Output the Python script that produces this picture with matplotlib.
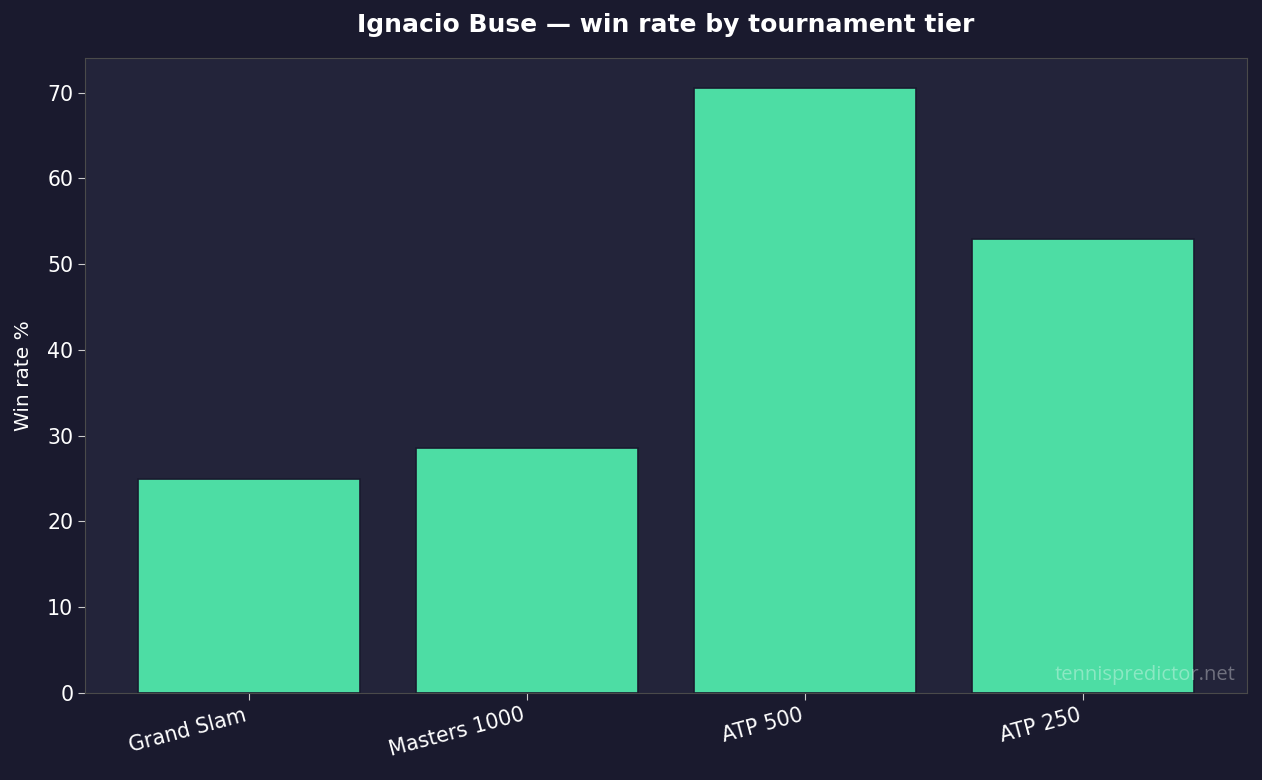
import matplotlib
matplotlib.use("Agg")
import matplotlib.pyplot as plt

tiers = ["Grand Slam", "Masters 1000", "ATP 500", "ATP 250"]
win_rate = [25.0, 28.6, 70.5, 52.9]

BG = "#1a1a2e"
PANEL = "#23243a"
BAR = "#4ddda4"

fig, ax = plt.subplots(figsize=(12.62, 7.8), dpi=100)
fig.patch.set_facecolor(BG)
ax.set_facecolor(PANEL)

ax.bar(tiers, win_rate, width=0.8, color=BAR, edgecolor=BG, linewidth=1.2)

ax.set_title("Ignacio Buse \u2014 win rate by tournament tier", color="white",
             fontsize=18, fontweight="bold", pad=19)
ax.set_ylabel("Win rate %", color="white", fontsize=14.5, labelpad=10)
ax.tick_params(colors="white", labelsize=14.8, length=5)
ax.tick_params(color="#cccccc")
plt.setp(ax.get_xticklabels(), rotation=15, ha="right")
for s in ax.spines.values():
    s.set_color("#4a4a4a")

ax.text(0.99, 0.012, "tennispredictor.net", transform=ax.transAxes,
        ha="right", va="bottom", color="white", alpha=0.35, fontsize=14.5,
        family=["Open Sans", "DejaVu Sans"])

fig.subplots_adjust(left=0.0674, right=0.988, top=0.9256, bottom=0.1115)
fig.savefig("out.png", facecolor=BG)
